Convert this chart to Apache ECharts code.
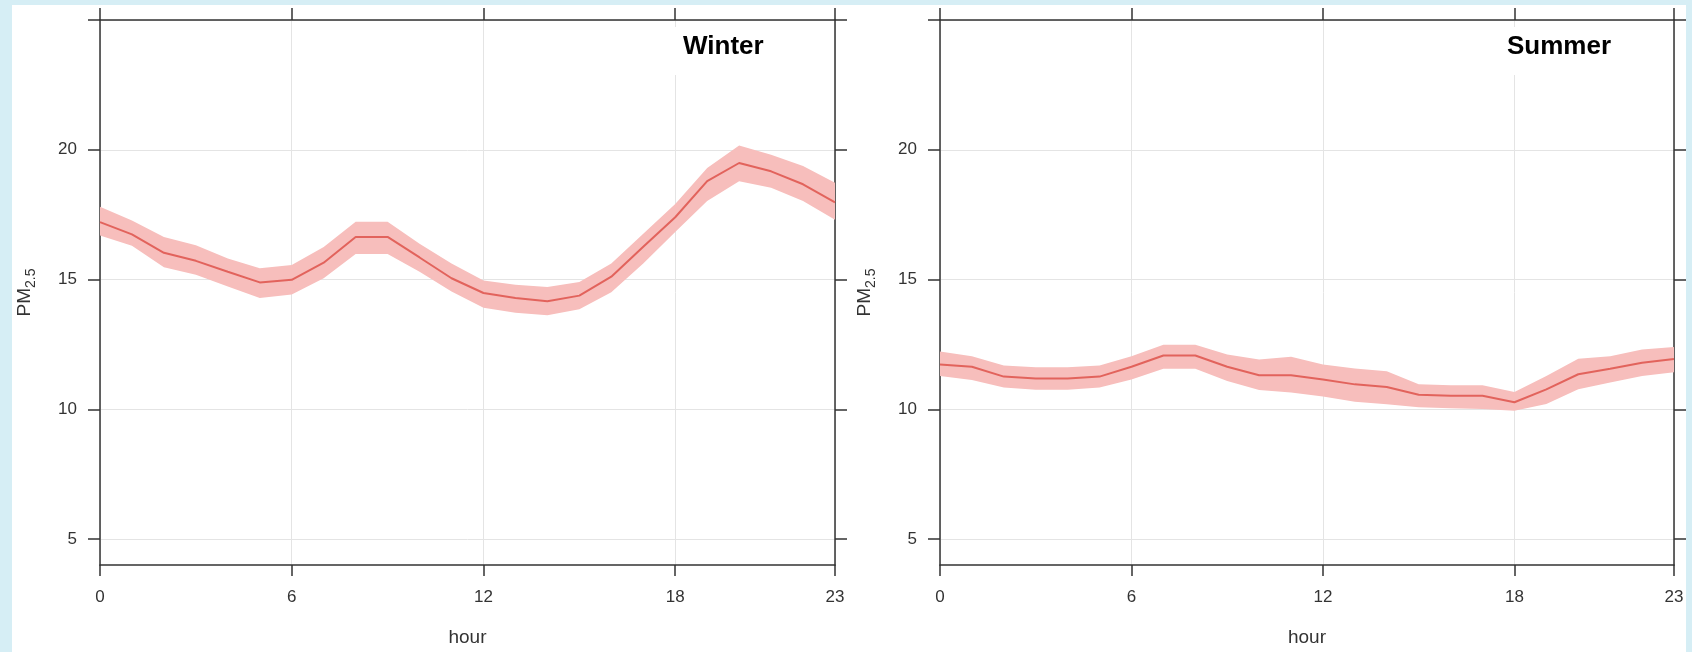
<!DOCTYPE html>
<html>
<head>
<meta charset="utf-8">
<title>PM2.5 diurnal cycle</title>
<script src="https://cdn.jsdelivr.net/npm/echarts@6/dist/echarts.min.js"></script>
<style>
  html, body { margin: 0; padding: 0; background: #d6eef5; }
  #paper { position: absolute; left: 12px; top: 5px; width: 1674px; height: 647px; background: #ffffff; }
  #main { position: absolute; left: 0; top: 0; width: 1692px; height: 652px; }
</style>
</head>
<body>
<div id="paper"></div>
<div id="main"></div>
<script>
// hours of the day
var hours = [0, 1, 2, 3, 4, 5, 6, 7, 8, 9, 10, 11, 12, 13, 14, 15, 16, 17, 18, 19, 20, 21, 22, 23];

// winter: mean and confidence band
var winterMean = [17.21, 16.74, 16.03, 15.72, 15.30, 14.89, 14.99, 15.65, 16.64, 16.64, 15.85, 15.05,
                  14.48, 14.29, 14.16, 14.38, 15.11, 16.26, 17.40, 18.79, 19.49, 19.17, 18.67, 17.97];
var winterUpper = [17.80, 17.27, 16.64, 16.32, 15.81, 15.43, 15.56, 16.25, 17.23, 17.23, 16.38, 15.62,
                   14.96, 14.80, 14.71, 14.90, 15.62, 16.76, 17.91, 19.30, 20.16, 19.81, 19.37, 18.73];
var winterLower = [16.70, 16.30, 15.47, 15.18, 14.73, 14.29, 14.42, 15.05, 15.98, 15.98, 15.30, 14.54,
                   13.91, 13.72, 13.62, 13.85, 14.51, 15.62, 16.83, 18.03, 18.79, 18.54, 18.03, 17.30];

// summer: mean and confidence band
var summerMean = [11.73, 11.64, 11.26, 11.19, 11.19, 11.26, 11.64, 12.07, 12.07, 11.64, 11.31, 11.31,
                  11.15, 10.96, 10.86, 10.56, 10.52, 10.52, 10.27, 10.77, 11.35, 11.56, 11.79, 11.94];
var summerUpper = [12.23, 12.04, 11.69, 11.62, 11.62, 11.69, 12.04, 12.49, 12.49, 12.11, 11.92, 12.02,
                   11.73, 11.57, 11.47, 10.96, 10.93, 10.93, 10.67, 11.28, 11.95, 12.04, 12.30, 12.40];
var summerLower = [11.28, 11.13, 10.84, 10.75, 10.75, 10.84, 11.15, 11.56, 11.56, 11.09, 10.74, 10.65,
                   10.49, 10.29, 10.19, 10.08, 10.04, 10.01, 9.94, 10.20, 10.77, 11.03, 11.28, 11.43];

// axis ticks and labels
var hourTicks = [0, 6, 12, 18, 23];
var pmTicks = [5, 10, 15, 20, 25];
var pmLabels = [5, 10, 15, 20];

var font = "'Liberation Sans', Arial, sans-serif";
var ink = '#333333';
var lineColor = '#e2635c';
var bandColor = '#f7bebc';

var myChart = echarts.init(document.getElementById('main'), null, { renderer: 'canvas' });

function pairs(values) {
  return hours.map(function (h, i) { return [h, values[i]]; });
}

var grids = [
  { left: 100, top: 20, width: 735, height: 552 },
  { left: 940, top: 20, width: 734, height: 552 }
];

var xAxes = [];
var yAxes = [];
[0, 1].forEach(function (g) {
  // bottom hour axis with labels and vertical grid lines
  xAxes.push({
    gridIndex: g, type: 'value', position: 'bottom', min: 0, max: 23,
    name: 'hour', nameLocation: 'middle', nameGap: 63,
    nameTextStyle: { color: ink, fontSize: 19, fontFamily: font },
    axisLine: { show: true, lineStyle: { color: ink, width: 1.5 } },
    axisTick: { show: true, inside: false, length: 11, customValues: hourTicks, lineStyle: { color: ink, width: 1.5 } },
    axisLabel: { show: true, customValues: hourTicks, margin: 24, color: ink, fontSize: 17, fontFamily: font },
    splitLine: { show: true, lineStyle: { color: '#e4e4e4', width: 1 } }
  });
  // top frame with ticks
  xAxes.push({
    gridIndex: g, type: 'value', position: 'top', min: 0, max: 23,
    axisLine: { show: true, onZero: false, lineStyle: { color: ink, width: 1.5 } },
    axisTick: { show: true, inside: false, length: 12, customValues: hourTicks, lineStyle: { color: ink, width: 1.5 } },
    axisLabel: { show: false },
    splitLine: { show: false }
  });
  // left PM axis
  yAxes.push({
    gridIndex: g, type: 'value', position: 'left', min: 4, max: 25,
    name: 'PM{sub|2.5}', nameLocation: 'middle', nameGap: 62, nameRotate: 90,
    nameTextStyle: {
      color: ink, fontSize: 19, fontFamily: font, lineHeight: 26,
      rich: { sub: { fontSize: 14, fontFamily: font, color: ink, lineHeight: 14, verticalAlign: 'bottom' } }
    },
    axisLine: { show: true, lineStyle: { color: ink, width: 1.5 } },
    axisTick: { show: true, inside: false, length: 12, customValues: pmTicks, lineStyle: { color: ink, width: 1.5 } },
    axisLabel: { show: true, customValues: pmLabels, margin: 23, color: ink, fontSize: 17, fontFamily: font },
    splitLine: { show: true, lineStyle: { color: '#e4e4e4', width: 1 } }
  });
  // right frame with ticks
  yAxes.push({
    gridIndex: g, type: 'value', position: 'right', min: 4, max: 25,
    axisLine: { show: true, onZero: false, lineStyle: { color: ink, width: 1.5 } },
    axisTick: { show: true, inside: false, length: 12, customValues: pmTicks, lineStyle: { color: ink, width: 1.5 } },
    axisLabel: { show: false },
    splitLine: { show: false }
  });
});

function panelSeries(g, mean, upper, lower) {
  var bandData = hours.map(function (h, i) { return [h, lower[i], upper[i]]; });
  return [
    {
      // confidence band, drawn once as one polygon through the axis scales
      type: 'custom', xAxisIndex: g * 2, yAxisIndex: g * 2, silent: true, z: 2,
      data: bandData,
      encode: { x: 0, y: [1, 2] },
      renderItem: function (params, api) {
        if (params.dataIndex !== 0) return null;
        var top = [], bottom = [];
        bandData.forEach(function (d) {
          top.push(api.coord([d[0], d[2]]));
          bottom.push(api.coord([d[0], d[1]]));
        });
        return {
          type: 'polygon',
          shape: { points: top.concat(bottom.reverse()) },
          style: { fill: bandColor, stroke: null }
        };
      }
    },
    {
      type: 'line', xAxisIndex: g * 2, yAxisIndex: g * 2,
      data: pairs(mean), symbol: 'none', z: 3,
      lineStyle: { color: lineColor, width: 2 }
    }
  ];
}

var option = {
  animation: false,
  backgroundColor: 'transparent',
  grid: grids,
  xAxis: xAxes,
  yAxis: yAxes,
  title: [
    {
      text: 'Winter', left: 672, top: 27,
      padding: [7, 8, 15, 11], backgroundColor: '#ffffff',
      textStyle: { fontSize: 26, fontWeight: 'bold', color: '#000', fontFamily: font }
    },
    {
      text: 'Summer', left: 1500, top: 27,
      padding: [7, 8, 15, 7], backgroundColor: '#ffffff',
      textStyle: { fontSize: 26, fontWeight: 'bold', color: '#000', fontFamily: font }
    }
  ],
  series: panelSeries(0, winterMean, winterUpper, winterLower)
    .concat(panelSeries(1, summerMean, summerUpper, summerLower))
};

option && myChart.setOption(option);
</script>
</body>
</html>
